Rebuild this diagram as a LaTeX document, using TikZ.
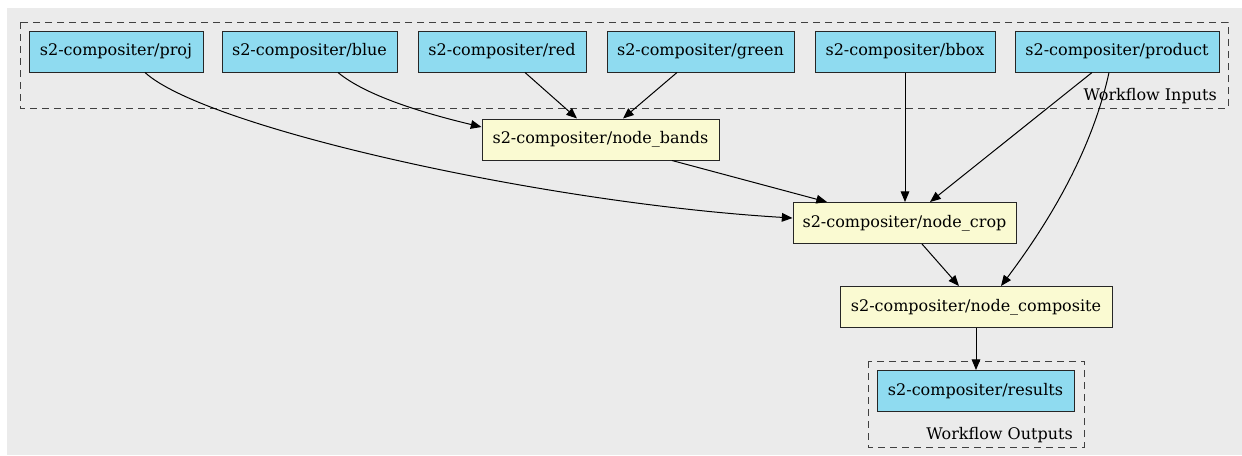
\documentclass[tikz,border=0pt]{standalone}
\usepackage{fontspec}
\setmainfont{DejaVu Serif}
\usetikzlibrary{arrows.meta,calc}

\definecolor{canvasgrey}{HTML}{EBEBEB}
\definecolor{inputblue}{HTML}{8FDBF0}
\definecolor{stepyellow}{HTML}{FAFAD2}

\tikzset{
  box/.style={draw=black!85, line width=0.75pt, inner sep=0pt,
    minimum height={41*0.75pt}, font=\fontsize{12}{15}\selectfont},
  io/.style={box, fill=inputblue},
  task/.style={box, fill=stepyellow},
  cluster/.style={draw=black!75, line width=0.75pt, dash pattern=on 5.25pt off 3.75pt},
  clusterlabel/.style={anchor=base east, inner sep=0pt, font=\fontsize{12}{15}\selectfont},
  flow/.style={draw=black, line width=0.75pt,
    -{Triangle[length=8pt,width=6.5pt]}},
}

\begin{document}
\begin{tikzpicture}[x=0.75pt, y=-0.75pt]
  \useasboundingbox (0,0) rectangle (1242,455);
  \fill[canvasgrey] (7,8) rectangle (1242,455);

  % clusters
  \draw[cluster] (20,22) rectangle (1228,108);
  \draw[cluster] (868,361) rectangle (1084,447);
  \node[clusterlabel] (inlabel) at (1217,100) {Workflow Inputs};
  \node[clusterlabel] (outlabel) at (1073,439) {Workflow Outputs};

  % workflow inputs
  \node[io, minimum width={174*0.75pt}] (proj)    at (116,51.5)    {s2-compositer/proj};
  \node[io, minimum width={175*0.75pt}] (blue)    at (309.5,51.5)  {s2-compositer/blue};
  \node[io, minimum width={168*0.75pt}] (red)     at (502,51.5)    {s2-compositer/red};
  \node[io, minimum width={187*0.75pt}] (green)   at (700.5,51.5)  {s2-compositer/green};
  \node[io, minimum width={180*0.75pt}] (bbox)    at (905,51.5)    {s2-compositer/bbox};
  \node[io, minimum width={204*0.75pt}] (product) at (1117,51.5)   {s2-compositer/product};

  % steps
  \node[task, minimum width={237*0.75pt}] (bands)     at (600.5,139.5) {s2-compositer/node\_bands};
  \node[task, minimum width={223*0.75pt}] (crop)      at (904.5,223)   {s2-compositer/node\_crop};
  \node[task, minimum width={272*0.75pt}] (composite) at (976,307)     {s2-compositer/node\_composite};

  % workflow outputs
  \node[io, minimum width={197*0.75pt}] (results) at (975.5,391) {s2-compositer/results};

  % connectors
  \draw[flow] ($(proj.south)+(29,0)$) .. controls +(60,55) and +(-250,-15) .. ($(crop.west)+(0,-5)$);
  \draw[flow] ($(blue.south)+(28.5,0)$) .. controls +(30,25) and +(-50,-12) .. ($(bands.west)+(0,-12.5)$);
  \draw[flow] ($(red.south)+(23,0)$) -- ($(bands.north)+(-23.5,0)$);
  \draw[flow] ($(green.south)+(-23.5,0)$) -- ($(bands.north)+(22.5,0)$);
  \draw[flow] ($(bands.south)+(71.5,0)$) -- ($(crop.north)+(-77.5,0)$);
  \draw[flow] (bbox.south) -- (bbox.south |- crop.north);
  \draw[flow] ($(product.south)+(-25,0)$) -- ($(crop.north)+(25.5,0)$);
  \draw[flow] ($(product.south)+(-8,0)$) .. controls +(-19,87) and +(39,-52) .. ($(composite.north)+(25,0)$);
  \draw[flow] ($(crop.south)+(17.5,0)$) -- ($(composite.north)+(-17,0)$);
  \draw[flow] (composite.south) -- ($(composite.south |- results.north)$);
\end{tikzpicture}
\end{document}
